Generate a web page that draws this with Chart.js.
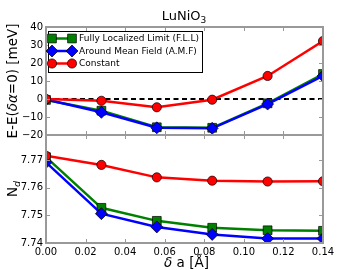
<!DOCTYPE html>
<html><head><meta charset="utf-8">
<script src="https://cdn.jsdelivr.net/npm/chart.js@4/dist/chart.umd.min.js"></script>
<style>
html,body{margin:0;padding:0;background:#fff;}
#wrap{position:relative;width:360px;height:270px;background:#fff;}
canvas{position:absolute;left:0;top:0;}
</style></head><body>
<div id="wrap"><canvas id="c1" width="360" height="270"></canvas><canvas id="c2" width="360" height="270"></canvas></div>
<script>
// ---- data ----
const deltaA = [0.000, 0.028, 0.056, 0.084, 0.112, 0.140];
const energyFLL = [-0.5, -6.5, -15.7, -16.0, -2.4, 13.9];
const energyAMF = [-0.3, -7.4, -16.0, -16.3, -2.8, 12.8];
const energyConst = [0.0, -1.0, -4.6, -0.4, 12.8, 32.2];
const zeroLine = [0, 0];
const zeroLineX = [0.00, 0.14];
const ndFLL = [7.7710, 7.7527, 7.7480, 7.7455, 7.7446, 7.7444];
const ndAMF = [7.7691, 7.7506, 7.7458, 7.7431, 7.7416, 7.7416];
const ndConst = [7.7715, 7.7682, 7.7637, 7.7625, 7.7622, 7.7623];
const xTicks = [0.00, 0.02, 0.04, 0.06, 0.08, 0.10, 0.12, 0.14];
const eTicks = [-20, -10, 0, 10, 20, 30, 40];
const ndTicks = [7.74, 7.75, 7.76, 7.77];
const seriesNames = ['Fully Localized Limit (F.L.L)', 'Around Mean Field (A.M.F)', 'Constant'];
const titleMain = 'LuNiO', titleSub = '3';

const FONT = "'DejaVu Sans', sans-serif";
const GREEN = '#008000', BLUE = '#0000ff', RED = '#ff0000', SPINE = '#999999';
const styles = [
  {color: GREEN, pointStyle: 'rect', r: 6.2},
  {color: BLUE, pointStyle: 'rectRot', r: 6},
  {color: RED, pointStyle: 'circle', r: 4.6}
];
const pts = (xs, ys) => xs.map((x, i) => ({x, y: ys[i]}));
function mkSet(i, ys) {
  const s = styles[i];
  return {
    label: seriesNames[i], data: pts(deltaA, ys), borderColor: s.color, backgroundColor: s.color,
    borderWidth: 2.5, pointStyle: s.pointStyle, pointRadius: s.r, pointHoverRadius: s.r,
    pointBackgroundColor: s.color, pointBorderColor: '#000', pointBorderWidth: 0.7,
    tension: 0, clip: 0, order: 2 - i
  };
}

function drawMarker(ctx, style, x, y) {
  const s = styles[style];
  ctx.save();
  ctx.fillStyle = s.color; ctx.strokeStyle = '#000'; ctx.lineWidth = 0.7;
  ctx.beginPath();
  if (s.pointStyle === 'circle') ctx.arc(x, y, s.r, 0, Math.PI * 2);
  else if (s.pointStyle === 'rect') { const h = s.r * Math.SQRT1_2; ctx.rect(x - h, y - h, 2 * h, 2 * h); }
  else { ctx.moveTo(x - s.r, y); ctx.lineTo(x, y - s.r); ctx.lineTo(x + s.r, y); ctx.lineTo(x, y + s.r); ctx.closePath(); }
  ctx.fill(); ctx.stroke();
  ctx.restore();
}

function frame(chart, yTicks) {
  const ctx = chart.ctx, a = chart.chartArea, xs = chart.scales.x, ys = chart.scales.y;
  ctx.save();
  ctx.strokeStyle = SPINE; ctx.lineWidth = 1;
  ctx.beginPath();
  xTicks.forEach(v => {
    const px = Math.round(xs.getPixelForValue(v)) + 0.5;
    ctx.moveTo(px, a.top); ctx.lineTo(px, a.top + 4);
    ctx.moveTo(px, a.bottom); ctx.lineTo(px, a.bottom - 4);
  });
  yTicks.forEach(v => {
    const py = Math.round(ys.getPixelForValue(v)) + 0.5;
    ctx.moveTo(a.left, py); ctx.lineTo(a.left + 4, py);
    ctx.moveTo(a.right, py); ctx.lineTo(a.right - 4, py);
  });
  ctx.stroke();
  ctx.lineWidth = 2;
  ctx.strokeRect(a.left, a.top, a.right - a.left, a.bottom - a.top);
  ctx.restore();
}

function drawRuns(ctx, runs, x, y, align) {
  // runs: [{t, font, dy}]
  let w = 0;
  runs.forEach(r => { ctx.font = r.font; r.w = ctx.measureText(r.t).width; w += r.w; });
  let cx = align === 'center' ? x - w / 2 : x;
  runs.forEach(r => { ctx.font = r.font; ctx.fillText(r.t, cx, y + (r.dy || 0)); cx += r.w; });
}

const topPlugin = {
  id: 'topDeco',
  afterDraw(chart) {
    const ctx = chart.ctx, a = chart.chartArea;
    frame(chart, eTicks);
    ctx.save();
    ctx.fillStyle = '#000'; ctx.textAlign = 'left'; ctx.textBaseline = 'alphabetic';
    // title
    drawRuns(ctx, [{t: titleMain, font: '13px ' + FONT}, {t: titleSub, font: '9px ' + FONT, dy: 3}], 184, 20, 'center');
    // y label
    ctx.save();
    ctx.translate(17, (a.top + a.bottom) / 2);
    ctx.rotate(-Math.PI / 2);
    drawRuns(ctx, [
      {t: 'E-E(', font: '13.5px ' + FONT},
      {t: 'δα', font: 'italic 13.5px ' + FONT},
      {t: '=0) [meV]', font: '13.5px ' + FONT}
    ], 0, 0, 'center');
    ctx.restore();
    // legend
    const lx = 48, ly = 31, lw = 154, lh = 41;
    ctx.fillStyle = '#fff'; ctx.fillRect(lx, ly, lw, lh);
    ctx.strokeStyle = '#000'; ctx.lineWidth = 1; ctx.strokeRect(lx + 0.5, ly + 0.5, lw, lh);
    const rows = [38.5, 51, 63.5];
    rows.forEach((ry, i) => {
      ctx.strokeStyle = styles[i].color; ctx.lineWidth = 2.5;
      ctx.beginPath(); ctx.moveTo(52, ry); ctx.lineTo(72, ry); ctx.stroke();
      drawMarker(ctx, i, 52, ry); drawMarker(ctx, i, 72, ry);
      ctx.fillStyle = '#000'; ctx.font = '9px ' + FONT; ctx.textBaseline = 'middle';
      ctx.fillText(seriesNames[i], 79, ry + 0.5);
    });
    ctx.restore();
  }
};

const botPlugin = {
  id: 'botDeco',
  afterDraw(chart) {
    const ctx = chart.ctx, a = chart.chartArea;
    frame(chart, ndTicks);
    ctx.save();
    ctx.fillStyle = '#000'; ctx.textBaseline = 'alphabetic';
    ctx.save();
    ctx.translate(17, (a.top + a.bottom) / 2);
    ctx.rotate(-Math.PI / 2);
    drawRuns(ctx, [{t: 'N', font: '13.5px ' + FONT}, {t: 'd', font: 'italic 9.5px ' + FONT, dy: 3}], 0, 0, 'center');
    ctx.restore();
    drawRuns(ctx, [
      {t: 'δ', font: 'italic 13.5px ' + FONT},
      {t: ' a [Å]', font: '13.5px ' + FONT}
    ], (a.left + a.right) / 2 + 2, 267, 'center');
    ctx.restore();
  }
};

const tickFont = {family: FONT, size: 10};
const minus = v => String(v).replace('-', '\u2212');

new Chart(document.getElementById('c1'), {
  type: 'line',
  data: {datasets: [
    mkSet(0, energyFLL), mkSet(1, energyAMF), mkSet(2, energyConst),
    {label: 'zero', data: pts(zeroLineX, zeroLine), borderColor: '#000', borderWidth: 2, borderDash: [5, 3.5],
     pointRadius: 0, pointHoverRadius: 0, clip: 0, order: 5}
  ]},
  options: {
    responsive: false, animation: false, devicePixelRatio: 1, events: [],
    layout: {padding: {left: 0, right: 37, top: 27, bottom: 135}},
    plugins: {legend: {display: false}, tooltip: {enabled: false}},
    scales: {
      x: {type: 'linear', min: 0, max: 0.14, ticks: {display: false}, grid: {display: false}, border: {display: false},
          afterFit(s) { s.height = 0; }},
      y: {type: 'linear', min: -20, max: 40,
          ticks: {stepSize: 10, font: tickFont, color: '#000', padding: 3, callback: v => minus(v)},
          grid: {display: false, drawTicks: false}, border: {display: false},
          afterFit(s) { s.width = 46; }}
    }
  },
  plugins: [topPlugin]
});

new Chart(document.getElementById('c2'), {
  type: 'line',
  data: {datasets: [mkSet(0, ndFLL), mkSet(1, ndAMF), mkSet(2, ndConst)]},
  options: {
    responsive: false, animation: false, devicePixelRatio: 1, events: [],
    layout: {padding: {left: 0, right: 37, top: 135, bottom: 0}},
    plugins: {legend: {display: false}, tooltip: {enabled: false}},
    scales: {
      x: {type: 'linear', min: 0, max: 0.14,
          ticks: {stepSize: 0.02, font: tickFont, color: '#000', padding: 3, maxRotation: 0, callback: v => Number(v).toFixed(2)},
          grid: {display: false, drawTicks: false}, border: {display: false},
          afterFit(s) { s.height = 27; }},
      y: {type: 'linear', min: 7.74, max: 7.779,
          ticks: {stepSize: 0.01, includeBounds: false, font: tickFont, color: '#000', padding: 3, callback: v => Number(v).toFixed(2)},
          grid: {display: false, drawTicks: false}, border: {display: false},
          afterFit(s) { s.width = 46; }}
    }
  },
  plugins: [botPlugin]
});
</script>
</body></html>
